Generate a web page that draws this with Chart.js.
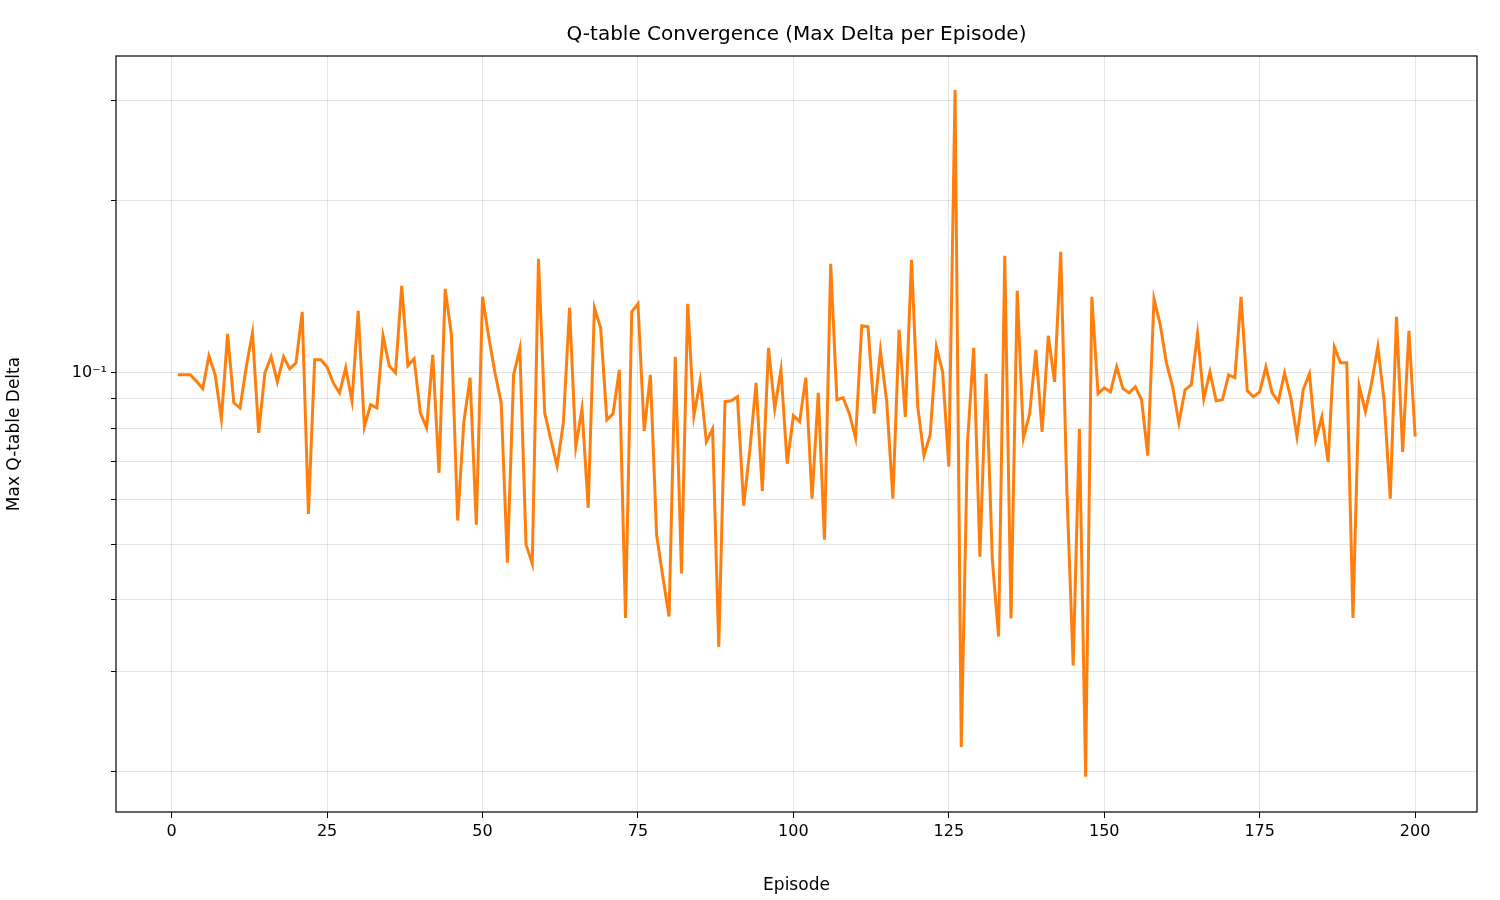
<!DOCTYPE html>
<html>
<head>
<meta charset="utf-8">
<script src="https://cdn.jsdelivr.net/npm/chart.js@4"></script>
<style>
body { margin: 0; background: #fff; }
#wrap { width: 1500px; height: 900px; }
</style>
</head>
<body>
<div id="wrap"><canvas id="qchart" width="1500" height="900"></canvas></div>
<script>
// values
const maxDelta = [
  0.0992, 0.0992, 0.0992, 0.0966, 0.0938, 0.1071, 0.0992, 0.0831, 0.1170, 0.0886,
  0.0868, 0.1024, 0.1175, 0.0785, 0.1000, 0.1067, 0.0964, 0.1067, 0.1016, 0.1041,
  0.1279, 0.0566, 0.1054, 0.1054, 0.1024, 0.0960, 0.0922, 0.1020, 0.0893, 0.1284,
  0.0804, 0.0879, 0.0868, 0.1161, 0.1029, 0.1000, 0.1420, 0.1029, 0.1058, 0.0851,
  0.0801, 0.1075, 0.0668, 0.1403, 0.1166, 0.0551, 0.0821, 0.0980, 0.0542, 0.1359,
  0.1156, 0.1000, 0.0886, 0.0465, 0.0992, 0.1102, 0.0500, 0.0463, 0.1584, 0.0851,
  0.0763, 0.0687, 0.0817, 0.1300, 0.0742, 0.0865, 0.0580, 0.1300, 0.1199, 0.0827,
  0.0848, 0.1012, 0.0372, 0.1279, 0.1321, 0.0791, 0.0992, 0.0520, 0.0439, 0.0374,
  0.1067, 0.0445, 0.1321, 0.0841, 0.0968, 0.0757, 0.0798, 0.0331, 0.0890, 0.0893,
  0.0908, 0.0585, 0.0733, 0.0960, 0.0621, 0.1106, 0.0865, 0.1012, 0.0693, 0.0841,
  0.0821, 0.0980, 0.0602, 0.0922, 0.0510, 0.1552, 0.0897, 0.0904, 0.0848, 0.0769,
  0.1209, 0.1204, 0.0848, 0.1093, 0.0893, 0.0602, 0.1189, 0.0837, 0.1577, 0.0872,
  0.0716, 0.0779, 0.1110, 0.1004, 0.0685, 0.3130, 0.0221, 0.0754, 0.1106, 0.0476,
  0.0996, 0.0470, 0.0345, 0.1603, 0.0371, 0.1392, 0.0769, 0.0848, 0.1097, 0.0788,
  0.1161, 0.0964, 0.1629, 0.0616, 0.0307, 0.0798, 0.0196, 0.1359, 0.0919, 0.0941,
  0.0926, 0.1024, 0.0938, 0.0922, 0.0945, 0.0897, 0.0716, 0.1348, 0.1214, 0.1041,
  0.0945, 0.0817, 0.0934, 0.0953, 0.1170, 0.0900, 0.1004, 0.0893, 0.0897, 0.0992,
  0.0980, 0.1359, 0.0930, 0.0908, 0.0926, 0.1024, 0.0922, 0.0890, 0.1000, 0.0904,
  0.0773, 0.0934, 0.0996, 0.0763, 0.0837, 0.0698, 0.1110, 0.1041, 0.1041, 0.0372,
  0.0949, 0.0855, 0.0960, 0.1110, 0.0897, 0.0602, 0.1253, 0.0727, 0.1185, 0.0773
]
const episodes = maxDelta.map((v, i) => i + 1)
const xTicks = [0, 25, 50, 75, 100, 125, 150, 175, 200]
const yTicks = [0.02, 0.03, 0.04, 0.05, 0.06, 0.07, 0.08, 0.09, 0.1, 0.2, 0.3]

const font = "'DejaVu Sans', sans-serif"

const framePlugin = {
  id: 'frame',
  afterDraw(chart) {
    const { ctx, chartArea: a } = chart
    ctx.save()
    ctx.strokeStyle = '#000'
    ctx.lineWidth = 1.2
    ctx.strokeRect(a.left, a.top, a.right - a.left, a.bottom - a.top)
    ctx.fillStyle = '#000'
    ctx.font = '20px ' + font
    ctx.textAlign = 'center'
    ctx.textBaseline = 'middle'
    ctx.fillText('Q-table Convergence (Max Delta per Episode)', (a.left + a.right) / 2, 35)
    ctx.restore()
  }
}

const ctx = document.getElementById('qchart').getContext('2d')
const myChart = new Chart(ctx, {
  type: 'line',
  data: {
    datasets: [{
      data: episodes.map((e, i) => ({ x: e, y: maxDelta[i] })),
      borderColor: '#ff7f0e',
      borderWidth: 3,
      pointRadius: 0,
      tension: 0,
      fill: false
    }]
  },
  options: {
    responsive: false,
    animation: false,
    layout: { padding: { top: 56, right: 23, left: 0, bottom: 0 } },
    plugins: {
      legend: { display: false },
      title: { display: false },
      tooltip: { enabled: false }
    },
    scales: {
      x: {
        type: 'linear',
        min: -8.95,
        max: 209.95,
        afterBuildTicks: (s) => { s.ticks = xTicks.map(v => ({ value: v })) },
        afterFit: (s) => { s.height = 88 },
        grid: { color: 'rgba(0,0,0,0.1)', tickColor: '#000', tickLength: 6, drawTicks: true },
        border: { display: false },
        ticks: { color: '#000', font: { family: font, size: 16 }, padding: 4, maxRotation: 0 },
        title: { display: true, text: 'Episode', color: '#000', font: { family: font, size: 17 }, padding: { top: 4 } }
      },
      y: {
        type: 'logarithmic',
        min: 0.017,
        max: 0.359,
        afterBuildTicks: (s) => { s.ticks = yTicks.map(v => ({ value: v })) },
        afterFit: (s) => { s.width = 116 },
        grid: { color: 'rgba(0,0,0,0.1)', tickColor: '#000', tickLength: 5, drawTicks: true },
        border: { display: false },
        ticks: {
          color: '#000',
          font: { family: font, size: 16 },
          padding: 4,
          autoSkip: false,
          callback: (v) => (Math.abs(v - 0.1) < 1e-9 ? '10\u207B\u00B9' : '')
        },
        title: { display: true, text: 'Max Q-table Delta', color: '#000', font: { family: font, size: 17 }, padding: { bottom: 8 } }
      }
    }
  },
  plugins: [framePlugin]
})
</script>
</body>
</html>
